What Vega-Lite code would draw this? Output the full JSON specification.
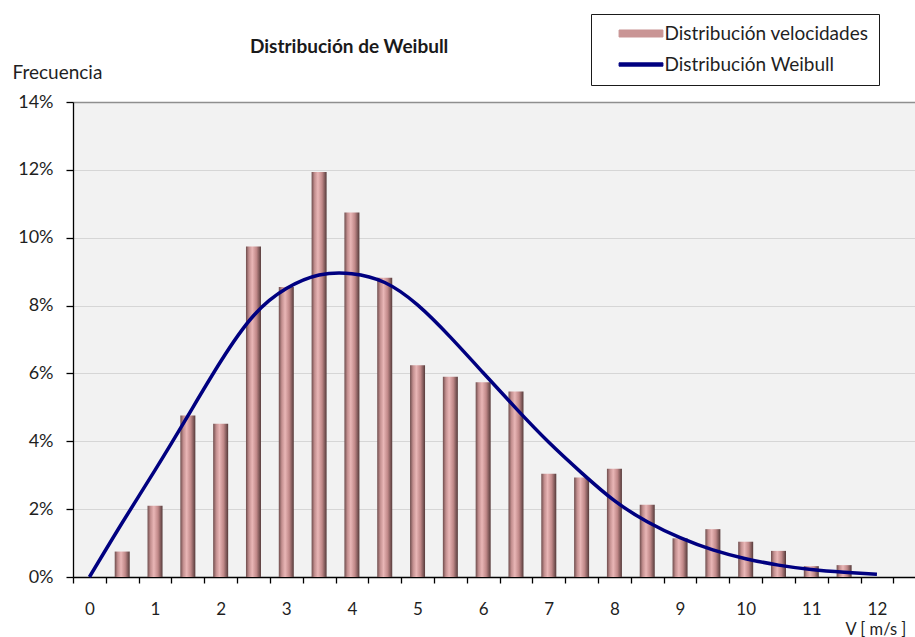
{
  "$schema": "https://vega.github.io/schema/vega-lite/v6.json",
  "autosize": {"type": "none"},
  "width": 842,
  "height": 475,
  "padding": {"left": 73, "top": 102, "right": 0, "bottom": 60},
  "background": "white",
  "config": {
    "view": {"fill": "#f2f2f2", "stroke": null},
    "font": "Lato",
    "axis": {"labelFont": "Lato", "titleFont": "Lato", "labelColor": "#1f1f1f", "titleColor": "#1f1f1f", "domainColor": "#000000", "tickColor": "#000000"}
  },
  "title": {
    "text": "Distribución de Weibull",
    "anchor": "start",
    "frame": "group",
    "dx": 177,
    "offset": -58,
    "baseline": "alphabetic",
    "font": "Lato",
    "fontSize": 19,
    "fontWeight": "bold",
    "color": "#1a1a1a"
  },
  "datasets": {
    "bars": [
      {"v": 0.5, "f": 0.75}, {"v": 1, "f": 2.1}, {"v": 1.5, "f": 4.76}, {"v": 2, "f": 4.52},
      {"v": 2.5, "f": 9.74}, {"v": 3, "f": 8.55}, {"v": 3.5, "f": 11.94}, {"v": 4, "f": 10.74},
      {"v": 4.5, "f": 8.82}, {"v": 5, "f": 6.24}, {"v": 5.5, "f": 5.9}, {"v": 6, "f": 5.74},
      {"v": 6.5, "f": 5.47}, {"v": 7, "f": 3.04}, {"v": 7.5, "f": 2.93}, {"v": 8, "f": 3.19},
      {"v": 8.5, "f": 2.13}, {"v": 9, "f": 1.14}, {"v": 9.5, "f": 1.41}, {"v": 10, "f": 1.04},
      {"v": 10.5, "f": 0.77}, {"v": 11, "f": 0.32}, {"v": 11.5, "f": 0.35}
    ],
    "curve": [
      {"v": 0, "f": 0}, {"v": 0.5, "f": 1.6}, {"v": 1, "f": 3.15},
      {"v": 1.5, "f": 4.75}, {"v": 2, "f": 6.35}, {"v": 2.5, "f": 7.7}, {"v": 3, "f": 8.5},
      {"v": 3.5, "f": 8.9}, {"v": 4, "f": 8.94}, {"v": 4.5, "f": 8.68},
      {"v": 5, "f": 8.02}, {"v": 5.5, "f": 7.07}, {"v": 6, "f": 6.02}, {"v": 6.5, "f": 4.97},
      {"v": 7, "f": 3.97}, {"v": 7.5, "f": 3.07}, {"v": 8, "f": 2.25}, {"v": 8.5, "f": 1.63},
      {"v": 9, "f": 1.16}, {"v": 9.5, "f": 0.8}, {"v": 10, "f": 0.54}, {"v": 10.5, "f": 0.35},
      {"v": 11, "f": 0.22}, {"v": 11.5, "f": 0.14}, {"v": 12, "f": 0.08}
    ]
  },
  "layer": [
    {
      "data": {"name": "bars"},
      "mark": {
        "type": "bar",
        "size": 15,
        "fill": {
          "gradient": "linear", "x1": 0, "y1": 0, "x2": 1, "y2": 0,
          "stops": [
            {"offset": 0, "color": "#6e4c4c"},
            {"offset": 0.2, "color": "#c38f8f"},
            {"offset": 0.42, "color": "#e9b6b6"},
            {"offset": 0.7, "color": "#c08888"},
            {"offset": 1, "color": "#553a3a"}
          ]
        }
      },
      "encoding": {
        "x": {
          "field": "v", "type": "quantitative",
          "scale": {"domain": [-0.25, 12.58], "nice": false, "zero": false, "padding": 0},
          "axis": {
            "title": "V [ m/s ]",
            "titleFontSize": 16.5,
            "titleFontWeight": "normal",
            "titleAnchor": "start",
            "titleAlign": "left",
            "titleBaseline": "alphabetic",
            "titleX": 772,
            "titleY": 57,
            "values": [-0.25, 0, 0.25, 0.75, 1, 1.25, 1.75, 2, 2.25, 2.75, 3, 3.25, 3.75, 4, 4.25, 4.75, 5, 5.25, 5.75, 6, 6.25, 6.75, 7, 7.25, 7.75, 8, 8.25, 8.75, 9, 9.25, 9.75, 10, 10.25, 10.75, 11, 11.25, 11.75, 12, 12.25],
            "tickCount": 200,
            "labelExpr": "datum.value % 1 === 0 ? ('' + datum.value) : ''",
            "tickOpacity": {"condition": {"test": "datum.value % 1 === 0", "value": 0}, "value": 1},
            "tickSize": 6,
            "tickWidth": 1.3,
            "domainWidth": 1.3,
            "labelFontSize": 17,
            "labelPadding": 18,
            "labelOverlap": false,
            "labelFlush": false,
            "labelBound": false,
            "grid": false
          }
        },
        "y": {
          "field": "f", "type": "quantitative",
          "scale": {"domain": [0, 14], "nice": false},
          "axis": {
            "title": "Frecuencia",
            "titleFontSize": 19,
            "titleFontWeight": "normal",
            "titleAngle": 0,
            "titleAlign": "left",
            "titleBaseline": "alphabetic",
            "titleX": -61,
            "titleY": -24,
            "values": [0, 2, 4, 6, 8, 10, 12, 14],
            "labelExpr": "datum.value + '%'",
            "labelFontSize": 18,
            "labelPadding": 13,
            "tickSize": 7,
            "tickWidth": 1.3,
            "domainWidth": 1.3,
            "grid": true,
            "gridColor": {"condition": {"test": "datum.value === 14", "value": "#8f8f8f"}, "value": "#d6d6d6"},
            "gridWidth": {"condition": {"test": "datum.value === 14", "value": 1.5}, "value": 1.2}
          }
        }
      }
    },
    {
      "data": {"name": "curve"},
      "mark": {"type": "line", "strokeWidth": 3.5, "interpolate": "natural"},
      "encoding": {
        "x": {"field": "v", "type": "quantitative"},
        "y": {"field": "f", "type": "quantitative"},
        "stroke": {
          "datum": "Distribución Weibull",
          "scale": {"domain": ["Distribución velocidades", "Distribución Weibull"], "range": ["#c99595", "#000080"]},
          "legend": {
            "orient": "none",
            "legendX": 518,
            "legendY": -88,
            "title": null,
            "strokeColor": "#1a1a1a",
            "fillColor": "white",
            "padding": 10,
            "rowPadding": 11,
            "symbolType": "M-5,-0.6H5V0.6H-5Z",
            "symbolSize": 77,
            "symbolOffset": 30.5,
            "labelOffset": 14,
            "labelFont": "Lato",
            "labelFontSize": 19,
            "labelColor": "#1f1f1f",
            "labelLimit": 400,
            "encode": {
              "symbols": {
                "update": {
                  "shape": {"signal": "datum.value === 'Distribución velocidades' ? 'M-5,-0.8H5V0.8H-5Z' : 'M-5,-0.38H5V0.38H-5Z'"},
                  "fill": {"signal": "datum.value === 'Distribución velocidades' ? '#c99595' : '#000080'"},
                  "stroke": {"signal": "datum.value === 'Distribución velocidades' ? '#7d5a5a' : '#000080'"},
                  "strokeWidth": {"value": 1},
                  "opacity": {"value": 1}
                }
              }
            }
          }
        }
      }
    }
  ]
}
